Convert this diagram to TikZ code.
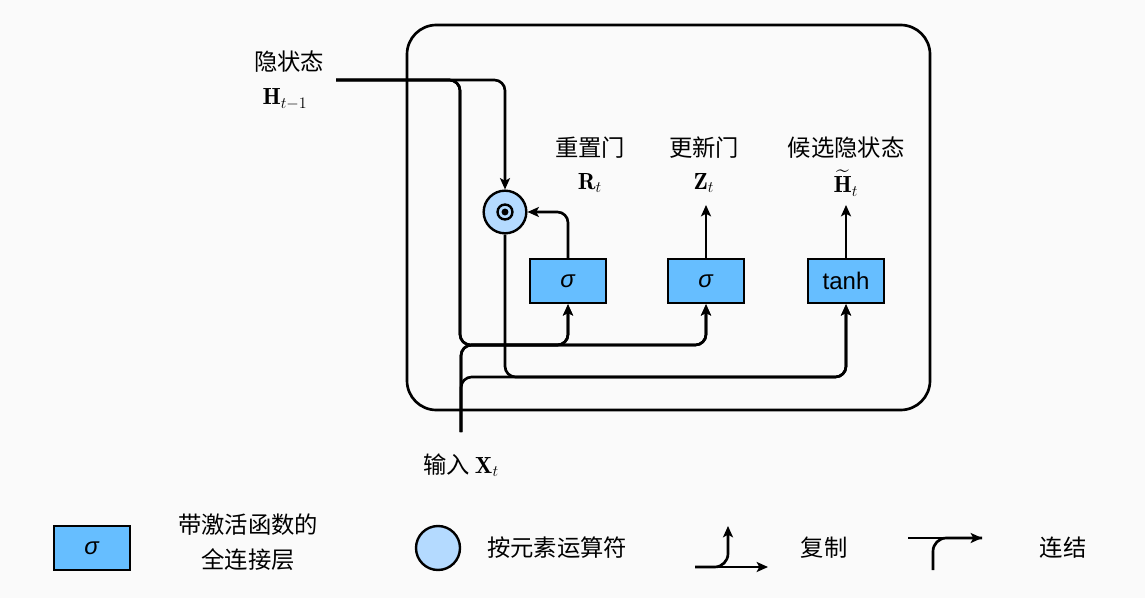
\documentclass[tikz,border=0pt]{standalone}
\usepackage{amsmath}
\usepackage{fontspec}
\setsansfont{Liberation Sans}
\newfontfamily\cjk{Noto Sans CJK SC}
\usetikzlibrary{arrows.meta,positioning}

\definecolor{gatefill}{RGB}{102,190,255}
\definecolor{opfill}{RGB}{180,218,255}
\definecolor{bgcol}{RGB}{250,250,250}

\tikzset{
  gate/.style={draw,line width=1.8pt,fill=gatefill,minimum width=57pt,minimum height=33pt,
    inner sep=0pt,font=\fontsize{18}{20}\selectfont\sffamily},
  opnode/.style={draw,circle,line width=1.8pt,fill=opfill,minimum size=32pt,inner sep=0pt},
  txt/.style={inner sep=0pt,font=\fontsize{17.5}{26}\selectfont\cjk},
  wire/.style={line width=2pt,rounded corners=8pt},
}

\begin{document}
\begin{tikzpicture}[x=0.75pt,y=-0.75pt,>={Stealth[length=8.5pt,width=7.5pt,inset=2pt]}]
  \fill[bgcol] (0,0) rectangle (1145,598);
  \useasboundingbox (0,0) rectangle (1145,598);

  % GRU 单元外框
  \draw[line width=2pt,rounded corners=22pt] (407,25) rectangle (930,410);

  % 门与候选隐状态
  \node[gate] (reset) at (568,281) {\textit{σ}};
  \node[gate] (update) at (706,281) {\textit{σ}};
  \node[gate] (cand) at (846,281) {tanh};
  % 按元素乘法
  \node[opnode] (mul) at (505,212) {};
  \draw[line width=1.8pt] (mul.center) circle (5.6pt);
  \fill (mul.center) circle (2.6pt);

  % 连线的端点与拐点
  \coordinate (hin) at (336,80);
  \coordinate (xin) at (461,432);
  \coordinate (hturn) at (460,345);
  \coordinate (row1) at (520,345);
  \coordinate (row2) at (600,377);
  \coordinate (zout) at (706,205);
  \coordinate (hout) at (846,205);

  % 隐状态 H_{t-1}
  \draw[wire,->] (hin) -| (mul.north);
  \draw[wire,->] (hin) -| (hturn) -| (reset.south);
  \draw[wire,->] (hin) -| (hturn) -| (update.south);
  % 输入 X_t
  \draw[wire,->] (xin) |- (row1) -| (reset.south);
  \draw[wire,->] (xin) |- (row1) -| (update.south);
  \draw[wire,->] (xin) |- (row2) -| (cand.south);
  % 重置后的隐状态
  \draw[wire,->] (mul.south) |- (row2) -| (cand.south);
  \draw[wire,->] (reset.north) |- (mul.east);
  % 输出
  \draw[wire,->] (update.north) -- (zout);
  \draw[wire,->] (cand.north) -- (hout);

  % 标签
  \node[txt] (hname) at (289,62) {隐状态};
  \node[txt] (hsym) at (285,99) {$\mathbf{H}_{t-1}$};
  \node[txt] (rname) at (590,148) {重置门};
  \node[txt] (rsym) at (590,183) {$\mathbf{R}_t$};
  \node[txt] (zname) at (704,148) {更新门};
  \node[txt] (zsym) at (704,183) {$\mathbf{Z}_t$};
  \node[txt] (cname) at (846,148) {候选隐状态};
  \node[txt] (csym) at (846,183) {$\widetilde{\mathbf{H}}_t$};
  \node[txt] (xlab) at (461,465) {输入 $\mathbf{X}_t$};

  % 图例
  \node[gate] (leggate) at (92,548) {\textit{σ}};
  \node[txt,align=center] (legdesc) at (248,542) {带激活函数的\\全连接层};
  \node[opnode,minimum size=33pt] (legop) at (438,548) {};
  \node[txt] (legopdesc) at (557,548) {按元素运算符};
  \coordinate (cpa) at (695,567);
  \coordinate (cpb) at (768,567);
  \coordinate (cpc) at (728,526);
  \draw[wire,rounded corners=10pt,->] (cpa) -- (cpb);
  \draw[wire,rounded corners=10pt,->] (cpa) -| (cpc);
  \node[txt] (copydesc) at (824,548) {复制};
  \coordinate (cta) at (908,538);
  \coordinate (ctb) at (982,538);
  \coordinate (ctc) at (933,570);
  \draw[wire,->] (cta) -- (ctb);
  \draw[wire,rounded corners=10pt] (ctc) |- (ctb);
  \node[txt] (catdesc) at (1063,548) {连结};
\end{tikzpicture}
\end{document}
